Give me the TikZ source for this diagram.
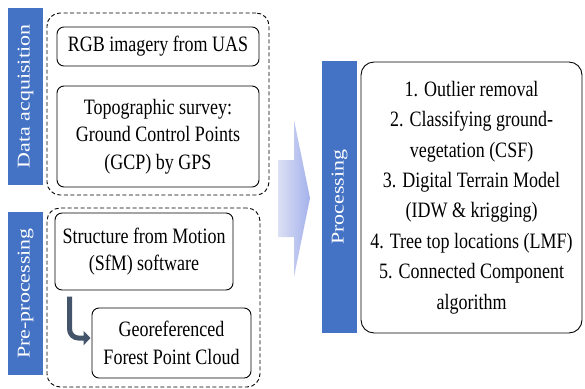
\documentclass[tikz,border=0pt]{standalone}
\usepackage{fontspec}
\setmainfont{Liberation Serif}
\usetikzlibrary{arrows.meta,calc}
\definecolor{barblue}{HTML}{4472C4}
\definecolor{slate}{HTML}{44546A}
\definecolor{paleleft}{HTML}{DCE0F4}
\definecolor{paleright}{HTML}{A4B1EC}
\begin{document}
\begin{tikzpicture}[x=1pt,y=-0.8197pt,yscale=1.22,
  every node/.append style={transform shape},
  bar/.style={fill=barblue,text=white,rotate=90,inner sep=0pt,minimum height=35pt,
    font=\rmfamily\fontsize{18}{22.5}\selectfont},
  group/.style={draw,dash pattern=on 4pt off 2.5pt,line width=0.9pt,rounded corners=13pt,inner sep=0pt},
  box/.style={draw,line width=0.9pt,rounded corners=7pt,align=center,inner sep=0pt,
    font=\rmfamily\fontsize{18}{22.5}\selectfont},
  bentarrow/.style={draw=slate,line width=5pt,rounded corners=9pt,
    -{Triangle[length=7pt,width=14pt]}}]
\useasboundingbox (0,0) rectangle (585,388);
  % Data acquisition
  \node[bar,minimum width=145.1pt] (acqbar) at (25.5,96.5) {Data acquisition};
  \node[group,minimum width=222pt,minimum height=149.2pt] (acq) at (158,104) {};
  \node[box,minimum width=202pt,minimum height=32pt] (rgb) at (158,46.5) {RGB imagery from UAS};
  \node[box,minimum width=202pt,minimum height=82.8pt] (gcp) at (158,136.5)
    {Topographic survey:\\Ground Control Points\\(GCP) by GPS};
  % Pre-processing
  \node[bar,minimum width=133.6pt] (prebar) at (25.5,293.5) {Pre-processing};
  \node[group,minimum width=213pt,minimum height=146.7pt] (pre) at (153.5,297.5) {};
  \node[box,minimum width=178pt,minimum height=63.1pt] (sfm) at (144,251.5)
    {Structure from Motion\\(SfM) software};
  \node[box,minimum width=159pt,minimum height=57.4pt] (geo) at (171.5,343)
    {Georeferenced\\Forest Point Cloud};
  \coordinate (bendstart) at ($(sfm.south west)+(15,6)$);
  \draw[bentarrow] (bendstart) |- ($(geo.west)+(-1,-5)$);
  % big arrow into processing
  \shade[left color=paleleft,right color=paleright]
    (278,160) -- (294,160) -- (294,120) -- (310,198) -- (294,277) -- (294,237) -- (278,237) -- cycle;
  % Processing
  \node[bar,minimum width=223pt] (procbar) at (339.5,197) {Processing};
  \node[box,rounded corners=13pt,minimum width=221pt,minimum height=222.1pt,
    font=\rmfamily\fontsize{18}{24.9}\selectfont] (steps) at (471.5,197.5)
    {1. Outlier removal\\2. Classifying ground-\\vegetation (CSF)\\3. Digital Terrain Model\\
     (IDW \& krigging)\\4. Tree top locations (LMF)\\5. Connected Component\\algorithm};
\end{tikzpicture}
\end{document}
